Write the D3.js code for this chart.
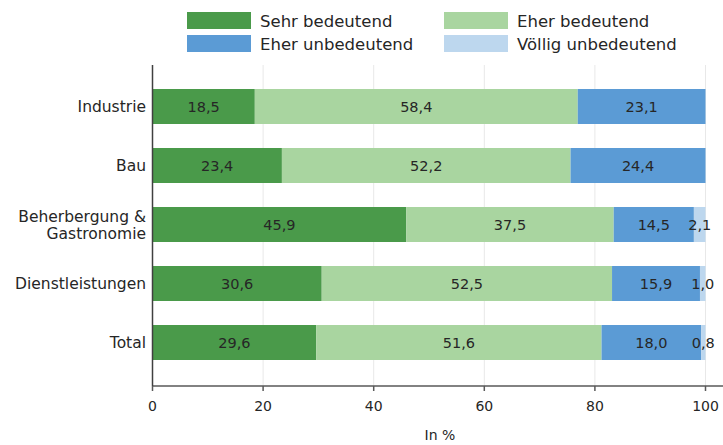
<!DOCTYPE html>
<html><head><meta charset="utf-8">
<script src="https://cdn.jsdelivr.net/npm/d3@7"></script>
<style>body{margin:0;background:#fff}svg{display:block}text{font-family:"DejaVu Sans",sans-serif;fill:#262626}</style>
</head><body><svg id="c" width="723" height="445"></svg>
<script>
const categories = ["Industrie","Bau","Beherbergung &\nGastronomie","Dienstleistungen","Total"];
const seriesNames = ["Sehr bedeutend","Eher bedeutend","Eher unbedeutend","Völlig unbedeutend"];
const sehrBedeutend = [18.5,23.4,45.9,30.6,29.6];
const eherBedeutend = [58.4,52.2,37.5,52.5,51.6];
const eherUnbedeutend = [23.1,24.4,14.5,15.9,18.0];
const voelligUnbedeutend = [0,0,2.1,1.0,0.8];
const xTicks = [0,20,40,60,80,100];
const colors = ["#4a9a4a","#a9d5a0","#5b9bd5","#bdd7ee"];

const series = [sehrBedeutend,eherBedeutend,eherUnbedeutend,voelligUnbedeutend];
const svg = d3.select("#c");
const x = d3.scaleLinear().domain([0,100]).range([152.5,705.5]);
const y = d3.scaleBand().domain(categories).range([77,372]).paddingInner(0.407).paddingOuter(0.2035);

// grid
svg.append("g").selectAll("line").data(xTicks.slice(1)).join("line")
  .attr("x1",d=>x(d)).attr("x2",d=>x(d)).attr("y1",65).attr("y2",386)
  .attr("stroke","#e8e8e8").attr("stroke-width",1);

// bars
const rows = categories.map((c,i)=>{let acc=0;return series.map((s,k)=>{const v=s[i];const o={cat:c,k,v,x0:acc,x1:acc+v};acc+=v;return o;});});
const flat = rows.flat().filter(d=>d.v>0);
svg.append("g").selectAll("rect").data(flat).join("rect")
  .attr("x",d=>x(d.x0)).attr("width",d=>x(d.x1)-x(d.x0))
  .attr("y",d=>y(d.cat)).attr("height",y.bandwidth())
  .attr("fill",d=>colors[d.k]);

// value labels
const fmt = v=>v.toFixed(1).replace(".",",");
svg.append("g").selectAll("text").data(flat).join("text")
  .attr("x",d=>x((d.x0+d.x1)/2)).attr("y",d=>y(d.cat)+y.bandwidth()/2)
  .attr("dy","0.36em").attr("text-anchor","middle").style("font-size","14.5px")
  .text(d=>fmt(d.v));

// x axis
const xAxis = svg.append("g").attr("transform","translate(0,386)");
xAxis.append("line").attr("x1",152).attr("x2",723).attr("y1",0).attr("y2",0).attr("stroke","#595959").attr("stroke-width",1.5);
xAxis.selectAll("line.t").data(xTicks).join("line").attr("class","t")
  .attr("x1",d=>x(d)).attr("x2",d=>x(d)).attr("y1",0).attr("y2",5).attr("stroke","#595959").attr("stroke-width",1.5);
xAxis.selectAll("text").data(xTicks).join("text")
  .attr("x",d=>x(d)).attr("y",25).attr("text-anchor","middle").style("font-size","14px").text(d=>d);
svg.append("text").attr("x",440).attr("y",440).attr("text-anchor","middle").style("font-size","14px").text("In %");

// y axis
svg.append("line").attr("x1",152.5).attr("x2",152.5).attr("y1",65).attr("y2",386).attr("stroke","#404040").attr("stroke-width",1.5);
categories.forEach(c=>{
  const lines=c.split("\n");
  const cy=y(c)+y.bandwidth()/2;
  const t=svg.append("text").attr("x",146).attr("text-anchor","end").style("font-size","15.5px");
  lines.forEach((l,j)=>{
    t.append("tspan").attr("x",146).attr("y",cy+(j-(lines.length-1)/2)*17).attr("dy","0.36em").text(l);
  });
});

// legend
const legPos=[[187,12],[444,12],[187,35],[444,35]];
seriesNames.forEach((n,i)=>{
  const [lx,ly]=legPos[i];
  svg.append("rect").attr("x",lx).attr("y",ly).attr("width",64).attr("height",17).attr("fill",colors[i]);
  svg.append("text").attr("x",lx+73).attr("y",ly+9).attr("dy","0.36em").style("font-size","16.5px").text(n);
});
</script></body></html>
